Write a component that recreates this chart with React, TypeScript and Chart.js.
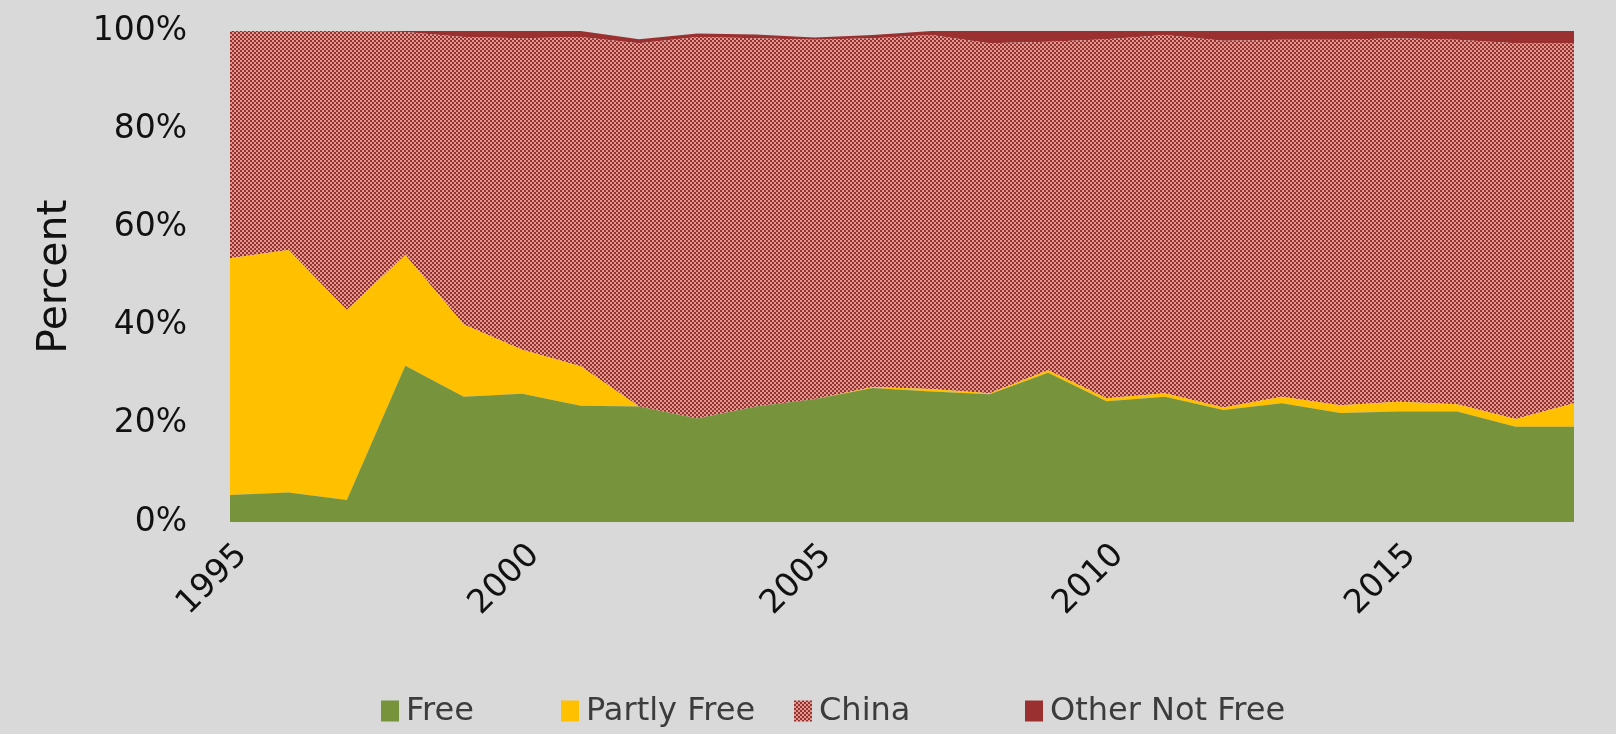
import React, { useEffect, useRef } from 'react';
import { Chart, registerables } from 'chart.js';

Chart.register(...registerables);

const years = ['1995','1996','1997','1998','1999','2000','2001','2002','2003','2004','2005','2006','2007','2008','2009','2010','2011','2012','2013','2014','2015','2016','2017','2018'];
const labeledYears = ['1995','2000','2005','2010','2015'];
const yTickValues = [0, 20, 40, 60, 80, 100];

const free =         [5.5, 6.0, 4.5, 31.8, 25.5, 26.1, 23.7, 23.5, 21.1, 23.5, 25.0, 27.3, 26.6, 26.0, 30.4, 24.6, 25.5, 22.8, 24.2, 22.2, 22.5, 22.5, 19.4, 19.4];
const partlyFree =   [48.2, 49.4, 38.7, 22.6, 14.7, 9.0, 8.0, 0, 0, 0, 0, 0.2, 0.5, 0.2, 0.5, 0.6, 0.7, 0.5, 1.3, 1.6, 2.0, 1.5, 1.6, 4.8];
const china =        [46.3, 44.6, 56.8, 45.4, 58.6, 63.4, 67.1, 74.0, 77.7, 75.0, 73.2, 71.0, 72.1, 71.3, 66.9, 73.1, 73.0, 74.7, 72.7, 74.4, 74.0, 74.2, 76.5, 73.3];
const otherNotFree = [0, 0, 0, 0.2, 1.2, 1.5, 1.2, 0.8, 0.7, 0.8, 0.5, 0.7, 0.8, 2.5, 2.2, 1.7, 0.8, 2.0, 1.8, 1.8, 1.5, 1.8, 2.5, 2.5];

const seriesNames = ['Free', 'Partly Free', 'China', 'Other Not Free'];

const GREEN = '#77933c';
const YELLOW = '#ffc000';
const DARK_RED = '#9a3030';

function makePattern(): CanvasPattern | string {
  const c = document.createElement('canvas');
  c.width = 4; c.height = 4;
  const g = c.getContext('2d');
  if (!g) return '#b86260';
  g.fillStyle = '#933432';
  g.fillRect(0, 0, 4, 4);
  g.fillStyle = '#e4968f';
  g.fillRect(0, 0, 2, 2);
  g.fillRect(2, 2, 2, 2);
  return g.createPattern(c, 'repeat') || '#b86260';
}

export default function App() {
  const ref = useRef<HTMLCanvasElement | null>(null);

  useEffect(() => {
    document.body.style.margin = '0';
    document.body.style.background = '#d9d9d9';
    document.documentElement.style.background = '#d9d9d9';
    const canvas = ref.current;
    if (!canvas) return;
    const pattern = makePattern();
    const colors: any[] = [GREEN, YELLOW, pattern, DARK_RED];

    const legendPlugin = {
      id: 'customLegend',
      afterDraw(chart: any) {
        const ctx = chart.ctx as CanvasRenderingContext2D;
        ctx.save();
        ctx.font = '32px "DejaVu Sans"';
        ctx.textBaseline = 'middle';
        ctx.textAlign = 'left';
        const boxX = [381, 561, 794, 1025];
        const cy = 711;
        const bw = 18, bh = 21;
        seriesNames.forEach((name, i) => {
          ctx.fillStyle = colors[i];
          ctx.fillRect(boxX[i], cy - bh / 2, bw, bh);
          ctx.fillStyle = '#3c3c3c';
          ctx.fillText(name, boxX[i] + bw + 7, cy + 1);
        });
        ctx.restore();
      },
    };

    const common = { borderWidth: 0, pointRadius: 0, pointHoverRadius: 0, tension: 0 };

    const chart = new Chart(canvas, {
      type: 'line',
      data: {
        labels: years,
        datasets: [
          { label: seriesNames[0], data: free, backgroundColor: colors[0], borderColor: colors[0], fill: 'origin', ...common },
          { label: seriesNames[1], data: partlyFree, backgroundColor: colors[1], borderColor: colors[1], fill: '-1', ...common },
          { label: seriesNames[2], data: china, backgroundColor: colors[2], borderColor: '#a04848', fill: '-1', ...common },
          { label: seriesNames[3], data: otherNotFree, backgroundColor: colors[3], borderColor: colors[3], fill: '-1', ...common },
        ],
      },
      options: {
        animation: false,
        responsive: false,
        devicePixelRatio: 1,
        layout: { padding: { top: 31, right: 17, left: 0, bottom: 0 } },
        plugins: { legend: { display: false }, tooltip: { enabled: false } },
        scales: {
          x: {
            type: 'category',
            offset: false,
            grid: { display: false, drawTicks: false },
            border: { display: false },
            afterFit: (axis: any) => { axis.height = 212; },
            ticks: {
              autoSkip: false,
              maxRotation: 45,
              minRotation: 45,
              padding: 14,
              labelOffset: 12,
              color: '#111',
              font: { family: 'DejaVu Sans', size: 33 },
              callback: (_v: any, idx: number) => (labeledYears.includes(years[idx]) ? years[idx] : ''),
            },
          },
          y: {
            stacked: true,
            min: 0,
            max: 100,
            grid: { display: false, drawTicks: true, tickLength: 40 },
            border: { display: false },
            afterFit: (axis: any) => { axis.width = 230; },
            afterBuildTicks: (axis: any) => { axis.ticks = yTickValues.map((v) => ({ value: v })); },
            ticks: {
              padding: 3,
              color: '#111',
              font: { family: 'DejaVu Sans', size: 33 },
              callback: (v: any) => `${v}%`,
            },
            title: {
              display: true,
              text: 'Percent',
              color: '#111',
              font: { family: 'DejaVu Sans', size: 41 },
              padding: { top: 31, bottom: 17 },
            },
          },
        },
      },
      plugins: [legendPlugin],
    });
    return () => chart.destroy();
  }, []);

  return (
    <div style={{ width: 1616, height: 734, background: '#d9d9d9' }}>
      <canvas ref={ref} width={1616} height={734} style={{ display: 'block' }} />
    </div>
  );
}
